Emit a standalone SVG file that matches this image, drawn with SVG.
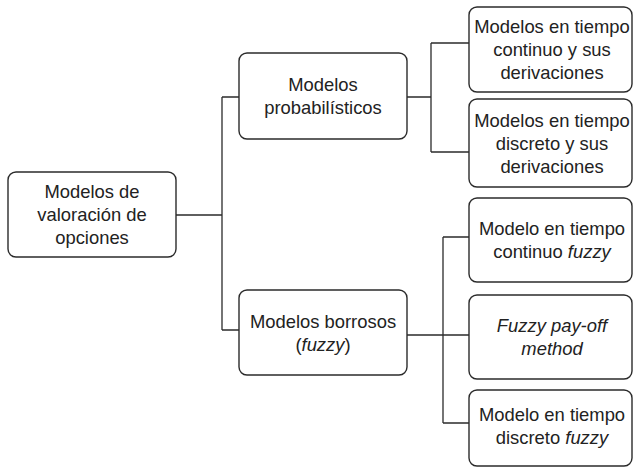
<svg xmlns="http://www.w3.org/2000/svg" width="633" height="475" viewBox="0 0 633 475">
<style>
.box{fill:#fff;stroke:#2b2b2b;stroke-width:1.4}
.ln{fill:none;stroke:#2b2b2b;stroke-width:1.3}
text{font-family:"Liberation Sans",Arial,Helvetica,sans-serif;font-size:18.4px;fill:#222;text-anchor:middle}
.it{font-style:italic}
</style>
<rect width="633" height="475" fill="#fff"/>
<g id="connectors">
<path class="ln" d="M176,215H222M222,97V330M222,97H239M222,330H239"/>
<path class="ln" d="M407,97H431M431,43V152M431,43H469M431,152H469"/>
<path class="ln" d="M407,335H469M443,237V423M443,237H469M443,423H469"/>
</g>
<g id="root">
<rect class="box" x="8" y="172" width="168" height="85" rx="8"/>
<text x="92" y="198">Modelos de</text>
<text x="92" y="221">valoración de</text>
<text x="92" y="244">opciones</text>
</g>
<g id="probabilisticos">
<rect class="box" x="239" y="53" width="168" height="86" rx="8"/>
<text x="323" y="91">Modelos</text>
<text x="323" y="113.5">probabilísticos</text>
</g>
<g id="borrosos">
<rect class="box" x="239" y="290" width="168" height="85" rx="8"/>
<text x="323" y="328">Modelos borrosos</text>
<text x="323" y="350.5">(<tspan class="it">fuzzy</tspan>)</text>
</g>
<g id="continuo">
<rect class="box" x="469" y="7" width="163" height="85" rx="8"/>
<text x="552" y="33">Modelos en tiempo</text>
<text x="552" y="56">continuo y sus</text>
<text x="552" y="79">derivaciones</text>
</g>
<g id="discreto">
<rect class="box" x="469" y="99" width="163" height="88" rx="8"/>
<text x="552" y="127">Modelos en tiempo</text>
<text x="552" y="150">discreto y sus</text>
<text x="552" y="173">derivaciones</text>
</g>
<g id="continuo-fuzzy">
<rect class="box" x="469" y="198" width="163" height="84" rx="8"/>
<text x="552" y="235">Modelo en tiempo</text>
<text x="552" y="258">continuo <tspan class="it">fuzzy</tspan></text>
</g>
<g id="payoff">
<rect class="box" x="469" y="295" width="163" height="84" rx="8"/>
<text x="552" y="332" class="it">Fuzzy pay-off</text>
<text x="552" y="355" class="it">method</text>
</g>
<g id="discreto-fuzzy">
<rect class="box" x="469" y="390" width="163" height="76" rx="8"/>
<text x="552" y="421">Modelo en tiempo</text>
<text x="552" y="444">discreto <tspan class="it">fuzzy</tspan></text>
</g>
</svg>
